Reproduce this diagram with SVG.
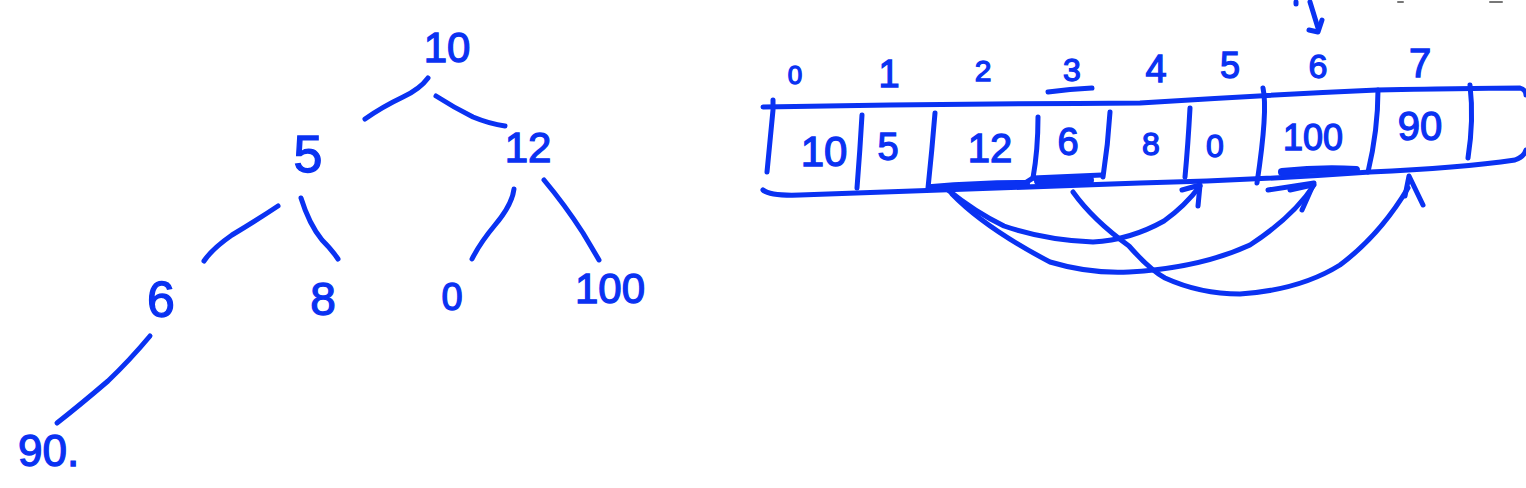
<svg xmlns="http://www.w3.org/2000/svg" width="1526" height="488" viewBox="0 0 1526 488">
<style>
text{font-family:"Liberation Sans",Arial,sans-serif;fill:#0a32f2;stroke:#0a32f2;stroke-width:1.3;text-anchor:middle}
.ink{fill:none;stroke:#0a32f2;stroke-width:5;stroke-linecap:round;stroke-linejoin:round}
.thick{fill:none;stroke:#0a32f2;stroke-width:8;stroke-linecap:round}
.faint{fill:none;stroke:#777;stroke-width:2;stroke-linecap:round}
</style>
<rect width="1526" height="488" fill="#fff"/>

<!-- Tree nodes -->
<g id="tree-10"><text x="447" y="62" font-size="42">10</text></g>
<g id="tree-5"><text x="308" y="172" font-size="52">5</text></g>
<g id="tree-12"><text x="528" y="162" font-size="42">12</text></g>
<g id="tree-6"><text x="161" y="317" font-size="50">6</text></g>
<g id="tree-8"><text x="323" y="315" font-size="46">8</text></g>
<g id="tree-0"><text x="452" y="310" font-size="38">0</text></g>
<g id="tree-100"><text x="610" y="303" font-size="42">100</text></g>
<g id="tree-90"><text x="18" y="466" font-size="44" style="text-anchor:start">90.</text></g>

<!-- Tree connectors -->
<g id="tree-edges" class="ink">
<path d="M428,78 Q420,89 403,97 Q382,107 365,119"/>
<path d="M436,96 Q453,107 473,117 Q490,124 505,126"/>
<path d="M278,206 Q257,220 232,235 Q212,249 204,261"/>
<path d="M301,198 Q309,224 322,240 Q332,250 338,259"/>
<path d="M514,189 Q512,205 495,225 Q480,243 472,259"/>
<path d="M544,180 Q565,205 583,233 Q592,248 599,260"/>
<path d="M150,336 Q130,360 108,381 Q80,405 57,423"/>
</g>

<!-- Array index labels -->
<g id="array-indices">
<text x="795" y="84" font-size="26">0</text>
<text x="889" y="87" font-size="38">1</text>
<text x="983" y="81" font-size="30">2</text>
<text x="1072" y="81" font-size="32">3</text>
<text x="1156" y="82" font-size="38">4</text>
<text x="1230" y="78" font-size="36">5</text>
<text x="1318" y="78" font-size="34">6</text>
<text x="1420" y="77" font-size="40">7</text>
</g>

<!-- Array body -->
<g id="array" class="ink">
<path d="M763,107 Q950,104 1140,103 Q1263,95 1377,90 Q1480,88 1520,88 Q1526,90 1526,95"/>
<path d="M763,190 Q770,196 800,195 Q950,190 1140,183 Q1260,180 1370,172 Q1460,168 1515,160 Q1524,157 1526,150"/>
<path d="M773,100 L773,110 Q770,140 767,172"/>
<path d="M862,115 Q860,150 857,188"/>
<path d="M935,113 Q932,150 928,188"/>
<path d="M1038,117 Q1038,150 1033,178 L1102,175"/>
<path d="M1033,178 Q1026,182 1022,186"/>
<path d="M1110,112 Q1108,145 1103,177"/>
<path d="M1190,108 Q1188,145 1185,177"/>
<path d="M1263,88 Q1268,110 1257,183"/>
<path d="M1378,90 Q1378,130 1368,172"/>
<path d="M1470,85 Q1474,120 1468,158"/>
<path d="M1048,92 Q1070,89 1092,88"/>
</g>
<g id="array-thick" class="thick">
<path d="M932,188 Q980,184 1026,184"/>
<path d="M1038,181 L1090,180"/>
<path d="M1282,172 Q1320,168 1356,170"/>
</g>

<!-- Array cells -->
<g id="cell-0"><text x="824" y="166" font-size="42">10</text></g>
<g id="cell-1"><text x="888" y="160" font-size="38">5</text></g>
<g id="cell-2"><text x="990" y="162" font-size="40">12</text></g>
<g id="cell-3"><text x="1068" y="155" font-size="38">6</text></g>
<g id="cell-4"><text x="1151" y="155" font-size="32">8</text></g>
<g id="cell-5"><text x="1215" y="157" font-size="32">0</text></g>
<g id="cell-6"><text x="1313" y="150" font-size="36">100</text></g>
<g id="cell-7"><text x="1420" y="140" font-size="40">90</text></g>

<!-- Connectors: child arcs and top arrow -->
<g id="connectors" class="ink">
<path d="M948,190 Q975,212 1004,226 Q1045,240 1093,242 Q1130,240 1164,221 Q1185,206 1200,186"/>
<path d="M1182,190 L1200,185 L1198,206"/>
<path d="M952,194 Q985,228 1050,262 Q1090,274 1129,272 Q1200,268 1250,245 Q1293,217 1314,185"/>
<path d="M1268,190 L1314,183 L1302,210"/>
<path d="M1290,190 L1308,186"/>
<path d="M1073,192 Q1093,220 1129,246 Q1150,270 1165,278 Q1200,294 1240,294 Q1300,290 1340,265 Q1380,235 1408,188"/>
<path d="M1405,196 L1409,176 L1423,205"/>
<path d="M1296,2 L1296,4"/>
<path d="M1310,2 Q1314,15 1318,28"/>
<path d="M1309,30 L1318,32 L1322,20"/>
</g>
<g id="marks" class="faint">
<path d="M1398,2 L1403,2"/>
<path d="M1490,2 L1502,2"/>
</g>
</svg>
